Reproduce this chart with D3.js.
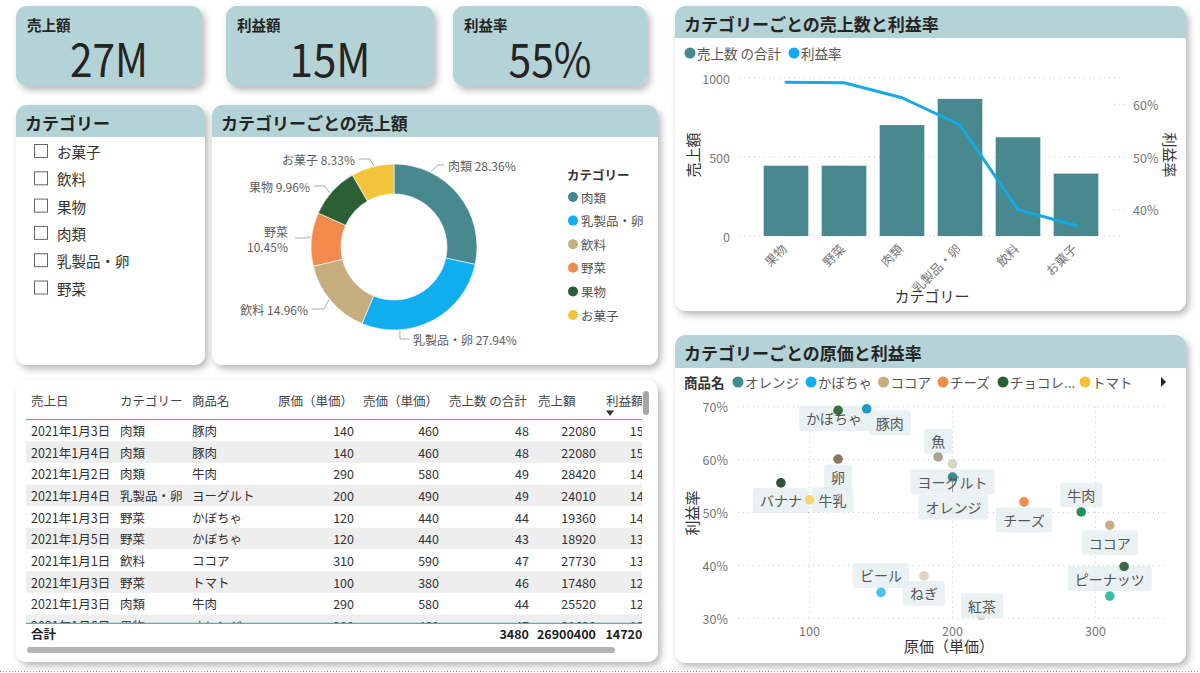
<!DOCTYPE html>
<html>
<head>
<meta charset="utf-8">
<script src="https://cdn.jsdelivr.net/npm/d3@7"></script>
<style>
body { margin: 0; background: #fff; }
text { font-family: "Noto Sans CJK JP", "Noto Sans", sans-serif; }
</style>
</head>
<body>
<div id="vis"></div>
<script>
var w = 1200, h = 673;

// KPI cards
var kpiLabels = ["売上額", "利益額", "利益率"];
var kpiValues = ["27M", "15M", "55%"];

// slicer
var slicerItems = ["お菓子", "飲料", "果物", "肉類", "乳製品・卵", "野菜"];

// donut: share of sales by category
var donutCats = ["肉類", "乳製品・卵", "飲料", "野菜", "果物", "お菓子"];
var donutShares = [28.36, 27.94, 14.96, 10.45, 9.96, 8.33];
var catColors = ["#47898e", "#0eaeef", "#c5ad7e", "#f28a4e", "#2c5f34", "#f3c43a"];

// bar + line: quantity and profit rate by category
var barCats = ["果物", "野菜", "肉類", "乳製品・卵", "飲料", "お菓子"];
var barQty = [445, 445, 702, 868, 625, 395];
var barRate = [0.642, 0.641, 0.6125, 0.561, 0.400, 0.370];
var qtyTicks = [0, 500, 1000];
var rateTicks = [0.4, 0.5, 0.6];

// scatter: cost vs profit rate per product
var scNames = ["かぼちゃ", "豚肉", "卵", "バナナ", "牛乳", "魚", "ヨーグルト", "オレンジ", "チーズ", "牛肉", "ココア", "チョコレート", "ピーナッツ", "ビール", "ねぎ", "紅茶"];
var scCost = [120, 140, 120, 80, 100, 190, 200, 200, 250, 290, 310, 320, 310, 150, 180, 220];
var scRate = [0.693, 0.696, 0.601, 0.556, 0.524, 0.605, 0.592, 0.567, 0.520, 0.501, 0.476, 0.398, 0.342, 0.349, 0.380, 0.305];
var scColors = ["#3c6c44", "#1f98c6", "#8b7a60", "#2e5236", "#f6d56c", "#a9a48f", "#d9d4c4", "#3f8c8c", "#f2894f", "#1c9457", "#c9ae82", "#3b6a46", "#3bbf9e", "#4cc0f0", "#dbd6c8", "#cfcabc"];
var scLegend = ["オレンジ", "かぼちゃ", "ココア", "チーズ", "チョコレ...", "トマト"];
var scLegendColors = ["#3f8c8c", "#0eaeef", "#c5ad7e", "#f28a4e", "#2c5f34", "#f3c43a"];
var scXTicks = [100, 200, 300];
var scYTicks = [0.3, 0.4, 0.5, 0.6, 0.7];

// table
var tableCols = ["売上日", "カテゴリー", "商品名", "原価（単価）", "売価（単価）", "売上数 の合計", "売上額", "利益額"];
var tableRows = [
  ["2021年1月3日", "肉類", "豚肉", 140, 460, 48, 22080, 15360],
  ["2021年1月4日", "肉類", "豚肉", 140, 460, 48, 22080, 15360],
  ["2021年1月2日", "肉類", "牛肉", 290, 580, 49, 28420, 14210],
  ["2021年1月4日", "乳製品・卵", "ヨーグルト", 200, 490, 49, 24010, 14210],
  ["2021年1月3日", "野菜", "かぼちゃ", 120, 440, 44, 19360, 14080],
  ["2021年1月5日", "野菜", "かぼちゃ", 120, 440, 43, 18920, 13760],
  ["2021年1月1日", "飲料", "ココア", 310, 590, 47, 27730, 13160],
  ["2021年1月3日", "野菜", "トマト", 100, 380, 46, 17480, 12880],
  ["2021年1月3日", "肉類", "牛肉", 290, 580, 44, 25520, 12760],
  ["2021年1月6日", "果物", "オレンジ", 200, 460, 47, 21620, 12220]
];
var tableTotals = ["合計", "", "", "", "", 3480, 26900400, 14720560];

var teal = "#b4d3d6";
var titleColor = "#252423";
var tickColor = "#777";

var svg = d3.select("#vis").append("svg")
  .attr("width", w)
  .attr("height", h);

var defs = svg.append("defs");
var flt = defs.append("filter").attr("id", "shadow")
  .attr("x", "-10%").attr("y", "-10%").attr("width", "125%").attr("height", "135%");
flt.append("feDropShadow").attr("dx", 3).attr("dy", 4).attr("stdDeviation", 3.5)
  .attr("flood-color", "#000").attr("flood-opacity", 0.28);

//draws a card with a teal header band
function card(x, y, cw, ch, headH, title) {
  var r = 11;
  var g = svg.append("g");
  g.append("rect")
    .attr("x", x).attr("y", y).attr("width", cw).attr("height", ch)
    .attr("rx", r).attr("fill", headH >= ch ? teal : "#fff")
    .attr("filter", "url(#shadow)");
  if (headH > 0 && headH < ch) {
    g.append("path")
      .attr("d", "M" + x + "," + (y + headH) + "V" + (y + r) +
        "A" + r + "," + r + " 0 0 1 " + (x + r) + "," + y +
        "H" + (x + cw - r) +
        "A" + r + "," + r + " 0 0 1 " + (x + cw) + "," + (y + r) +
        "V" + (y + headH) + "Z")
      .attr("fill", teal);
  }
  if (title) {
    g.append("text")
      .attr("x", x + 9).attr("y", y + headH / 2 + 1)
      .attr("dominant-baseline", "central")
      .attr("font-size", 17).attr("font-weight", 700)
      .attr("fill", titleColor)
      .text(title);
  }
  return g;
}

// ---------- KPI cards ----------
var kpiBoxes = [[16, 6, 186], [226, 6, 208], [453, 6, 194]];
var kpiWidths = [78, 81, 83];
kpiLabels.forEach(function (lab, i) {
  var b = kpiBoxes[i];
  var g = card(b[0], b[1], b[2], 80, 80, null);
  g.append("text")
    .attr("x", b[0] + 11).attr("y", 24)
    .attr("dominant-baseline", "central")
    .attr("font-size", 14.5).attr("font-weight", 700)
    .attr("fill", titleColor)
    .text(lab);
  g.append("text")
    .attr("x", b[0] + b[2] / 2 - kpiWidths[i] / 2).attr("y", 77)
    .attr("font-family", "'DejaVu Sans Condensed', 'Liberation Sans Narrow', 'DejaVu Sans', sans-serif")
    .attr("font-size", 46)
    .attr("textLength", kpiWidths[i])
    .attr("lengthAdjust", "spacingAndGlyphs")
    .attr("fill", titleColor)
    .text(kpiValues[i]);
});

// ---------- slicer ----------
var slicer = card(16, 105, 189, 260, 32, "カテゴリー");
slicer.selectAll("rect.box")
  .data(slicerItems)
  .enter()
  .append("rect")
  .attr("class", "box")
  .attr("x", 34.5)
  .attr("y", function (d, i) { return 144.5 + i * 27.3; })
  .attr("width", 13).attr("height", 13)
  .attr("fill", "#fff").attr("stroke", "#666").attr("stroke-width", 1);
slicer.selectAll("text.item")
  .data(slicerItems)
  .enter()
  .append("text")
  .attr("class", "item")
  .attr("x", 57)
  .attr("y", function (d, i) { return 151.5 + i * 27.3; })
  .attr("dominant-baseline", "central")
  .attr("font-size", 14.5).attr("fill", "#333")
  .text(function (d) { return d; });

// ---------- donut ----------
var donutCard = card(212, 105, 446, 260, 32, "カテゴリーごとの売上額");
var cx = 394, cy = 247;
var pie = d3.pie().sort(null).value(function (d) { return d; });
var arc = d3.arc().innerRadius(53).outerRadius(83);
var arcs = pie(donutShares);
donutCard.append("g")
  .attr("transform", "translate(" + cx + "," + cy + ")")
  .selectAll("path")
  .data(arcs)
  .enter()
  .append("path")
  .attr("d", arc)
  .attr("fill", function (d, i) { return catColors[i]; })
  .attr("stroke", "#fff").attr("stroke-width", 0.6);

// leader lines and labels (angle on ring, elbow, end, text pos)
var donutLabelPos = [
  { ang: 26, ex: 438, ey: 165, lx: 444, tx: 448, ty: 165, anchor: "start" },
  { ang: 176, ex: 400, ey: 339, lx: 409, tx: 413, ty: 339, anchor: "start" },
  { ang: 231, ex: 324, ey: 309, lx: 312, tx: 308, ty: 309, anchor: "end" },
  { ang: 277, ex: 306, ey: 238, lx: 295, tx: 288, ty: 231.5, anchor: "end", split: true },
  { ang: 310, ex: 325, ey: 186, lx: 314, tx: 310, ty: 186, anchor: "end" },
  { ang: 346, ex: 370, ey: 159, lx: 359, tx: 355, ty: 159, anchor: "end" }
];
donutCats.forEach(function (c, i) {
  var p = donutLabelPos[i];
  var a = p.ang * Math.PI / 180;
  var sx = cx + 84 * Math.sin(a), sy = cy - 84 * Math.cos(a);
  donutCard.append("polyline")
    .attr("points", [[sx, sy], [p.ex, p.ey], [p.lx, p.ey]].join(" "))
    .attr("fill", "none").attr("stroke", "#aaa").attr("stroke-width", 1);
  var label = donutShares[i].toFixed(2) + "%";
  if (p.split) {
    donutCard.append("text").attr("x", p.tx).attr("y", p.ty)
      .attr("text-anchor", p.anchor).attr("dominant-baseline", "central")
      .attr("font-size", 12).attr("fill", "#605e5c").text(c);
    donutCard.append("text").attr("x", p.tx).attr("y", p.ty + 15)
      .attr("text-anchor", p.anchor).attr("dominant-baseline", "central")
      .attr("font-size", 12).attr("fill", "#605e5c").text(label);
  } else {
    donutCard.append("text").attr("x", p.tx).attr("y", p.ty)
      .attr("text-anchor", p.anchor).attr("dominant-baseline", "central")
      .attr("font-size", 12).attr("fill", "#605e5c").text(c + " " + label);
  }
});

// legend
donutCard.append("text")
  .attr("x", 567).attr("y", 174)
  .attr("dominant-baseline", "central")
  .attr("font-size", 12.5).attr("font-weight", 700).attr("fill", "#333")
  .text("カテゴリー");
var dl = donutCard.selectAll("g.leg")
  .data(donutCats)
  .enter()
  .append("g")
  .attr("class", "leg")
  .attr("transform", function (d, i) { return "translate(573," + (197 + i * 23.6) + ")"; });
dl.append("circle").attr("r", 5).attr("fill", function (d, i) { return catColors[i]; });
dl.append("text").attr("x", 8).attr("dominant-baseline", "central")
  .attr("font-size", 12.5).attr("fill", "#555")
  .text(function (d) { return d; });

// ---------- bar + line chart ----------
var barCard = card(675, 6, 511, 305, 32, "カテゴリーごとの売上数と利益率");
var bx = d3.scaleBand().domain(barCats).range([757, 1105]).paddingInner(0.23).paddingOuter(0.115);
var byL = d3.scaleLinear().domain([0, 1000]).range([236, 78]);
var byR = d3.scaleLinear().domain([0.35, 0.65]).range([236, 78]);

// legend
barCard.append("circle").attr("cx", 690).attr("cy", 53).attr("r", 5.5).attr("fill", "#47898e");
barCard.append("text").attr("x", 697).attr("y", 53).attr("dominant-baseline", "central")
  .attr("font-size", 13.5).attr("fill", "#555").text("売上数 の合計");
barCard.append("circle").attr("cx", 794).attr("cy", 53).attr("r", 5.5).attr("fill", "#12a9ec");
barCard.append("text").attr("x", 801).attr("y", 53).attr("dominant-baseline", "central")
  .attr("font-size", 13.5).attr("fill", "#555").text("利益率");

barCard.selectAll("line.grid")
  .data(qtyTicks)
  .enter()
  .append("line")
  .attr("class", "grid")
  .attr("x1", 739).attr("x2", 1124)
  .attr("y1", function (d) { return byL(d); })
  .attr("y2", function (d) { return byL(d); })
  .attr("stroke", "#c8c8c8").attr("stroke-dasharray", "1,4");
barCard.selectAll("text.yl")
  .data(qtyTicks)
  .enter()
  .append("text")
  .attr("class", "yl")
  .attr("x", 730).attr("y", function (d) { return byL(d); })
  .attr("text-anchor", "end").attr("dominant-baseline", "central")
  .attr("font-size", 12.5).attr("fill", tickColor)
  .text(function (d) { return d; });
barCard.selectAll("text.yr")
  .data(rateTicks)
  .enter()
  .append("text")
  .attr("class", "yr")
  .attr("x", 1133).attr("y", function (d) { return byR(d); })
  .attr("dominant-baseline", "central")
  .attr("font-size", 12.5).attr("fill", tickColor)
  .text(function (d) { return d3.format(".0%")(d); });
barCard.selectAll("line.rg")
  .data(rateTicks)
  .enter()
  .append("line")
  .attr("class", "rg")
  .attr("x1", 1114).attr("x2", 1128)
  .attr("y1", function (d) { return byR(d); })
  .attr("y2", function (d) { return byR(d); })
  .attr("stroke", "#c8c8c8").attr("stroke-dasharray", "1,4");

barCard.selectAll("rect.bar")
  .data(barCats)
  .enter()
  .append("rect")
  .attr("class", "bar")
  .attr("x", function (d) { return bx(d); })
  .attr("y", function (d, i) { return byL(barQty[i]); })
  .attr("width", bx.bandwidth())
  .attr("height", function (d, i) { return byL(0) - byL(barQty[i]); })
  .attr("fill", "#47898e");

var rateLine = d3.line()
  .x(function (d, i) { return bx(barCats[i]) + bx.bandwidth() / 2; })
  .y(function (d) { return byR(d); });
barCard.append("path")
  .attr("d", rateLine(barRate))
  .attr("fill", "none").attr("stroke", "#17a8e6")
  .attr("stroke-width", 3).attr("stroke-linejoin", "round").attr("stroke-linecap", "round");

barCard.selectAll("text.xl")
  .data(barCats)
  .enter()
  .append("text")
  .attr("class", "xl")
  .attr("transform", function (d) {
    return "translate(" + (bx(d) + bx.bandwidth() / 2 - 2) + ",246) rotate(-45)";
  })
  .attr("text-anchor", "end").attr("dominant-baseline", "central")
  .attr("font-size", 12.5).attr("fill", tickColor)
  .text(function (d) { return d; });

barCard.append("text").attr("x", 932).attr("y", 295)
  .attr("text-anchor", "middle").attr("dominant-baseline", "central")
  .attr("font-size", 15).attr("fill", "#333").text("カテゴリー");
barCard.append("text")
  .attr("transform", "translate(692,155) rotate(-90)")
  .attr("text-anchor", "middle").attr("dominant-baseline", "central")
  .attr("font-size", 15).attr("fill", "#333").text("売上額");
barCard.append("text")
  .attr("transform", "translate(1170,155) rotate(90)")
  .attr("text-anchor", "middle").attr("dominant-baseline", "central")
  .attr("font-size", 15).attr("fill", "#333").text("利益率");

// ---------- scatter ----------
var scCard = card(675, 335, 511, 328, 33, "カテゴリーごとの原価と利益率");
var sx = d3.scaleLinear().domain([50, 350]).range([738, 1167]);
var sy = d3.scaleLinear().domain([0.3, 0.7]).range([618.3, 406.7]);

// legend
scCard.append("text").attr("x", 684).attr("y", 382).attr("dominant-baseline", "central")
  .attr("font-size", 13.5).attr("font-weight", 700).attr("fill", "#333").text("商品名");
var legX = [738, 811, 883.5, 943, 1003, 1085];
scLegend.forEach(function (n, i) {
  scCard.append("circle").attr("cx", legX[i]).attr("cy", 382).attr("r", 5.5).attr("fill", scLegendColors[i]);
  scCard.append("text").attr("x", legX[i] + 7).attr("y", 382).attr("dominant-baseline", "central")
    .attr("font-size", 13.5).attr("fill", "#555").text(n);
});
scCard.append("path").attr("d", "M1161,377L1166,382L1161,387Z").attr("fill", "#222");

scCard.selectAll("line.hg")
  .data(scYTicks)
  .enter()
  .append("line")
  .attr("class", "hg")
  .attr("x1", 738).attr("x2", 1167)
  .attr("y1", function (d) { return sy(d); })
  .attr("y2", function (d) { return sy(d); })
  .attr("stroke", "#c8c8c8").attr("stroke-dasharray", "1,4");
scCard.selectAll("line.vg")
  .data(scXTicks)
  .enter()
  .append("line")
  .attr("class", "vg")
  .attr("y1", 406.7).attr("y2", 618.3)
  .attr("x1", function (d) { return sx(d); })
  .attr("x2", function (d) { return sx(d); })
  .attr("stroke", "#c8c8c8").attr("stroke-dasharray", "1,4");
scCard.selectAll("text.sy")
  .data(scYTicks)
  .enter()
  .append("text")
  .attr("class", "sy")
  .attr("x", 728).attr("y", function (d) { return sy(d); })
  .attr("text-anchor", "end").attr("dominant-baseline", "central")
  .attr("font-size", 12.5).attr("fill", tickColor)
  .text(function (d) { return d3.format(".0%")(d); });
scCard.selectAll("text.sx")
  .data(scXTicks)
  .enter()
  .append("text")
  .attr("class", "sx")
  .attr("x", function (d) { return sx(d); }).attr("y", 630)
  .attr("text-anchor", "middle").attr("dominant-baseline", "central")
  .attr("font-size", 12.5).attr("fill", tickColor)
  .text(function (d) { return d; });
scCard.append("text").attr("x", 949).attr("y", 645)
  .attr("text-anchor", "middle").attr("dominant-baseline", "central")
  .attr("font-size", 15).attr("fill", "#333").text("原価（単価）");
scCard.append("text")
  .attr("transform", "translate(691,513) rotate(-90)")
  .attr("text-anchor", "middle").attr("dominant-baseline", "central")
  .attr("font-size", 15).attr("fill", "#333").text("利益率");

// label offsets from each point
var scLabelOffset = {
  "かぼちゃ": [-4, 8], "豚肉": [23, 14], "卵": [0, 18], "バナナ": [0, 17.5], "牛乳": [23, 0],
  "魚": [0, -16], "ヨーグルト": [0, 18], "オレンジ": [1, 30], "チーズ": [0, 18], "牛肉": [0, -17],
  "ココア": [0, 17.5], "ピーナッツ": [0, -17.5], "ビール": [0, -17], "ねぎ": [0, 17.5], "紅茶": [1, -10]
};
var labelled = scNames.filter(function (n) { return scLabelOffset[n]; });

function labelPos(n) {
  var i = scNames.indexOf(n);
  var o = scLabelOffset[n];
  return [sx(scCost[i]) + o[0], sy(scRate[i]) + o[1]];
}
// label boxes first
var lbl = scCard.selectAll("g.lbl")
  .data(labelled)
  .enter()
  .append("g")
  .attr("class", "lbl")
  .attr("transform", function (n) { var p = labelPos(n); return "translate(" + p[0] + "," + p[1] + ")"; });
lbl.append("rect")
  .attr("x", function (n) { return -(n.length * 14) / 2 - 7; })
  .attr("y", -12.5)
  .attr("width", function (n) { return n.length * 14 + 14; })
  .attr("height", 25)
  .attr("rx", 3)
  .attr("fill", "#e3eeef").attr("opacity", 0.8);

// leader for オレンジ
var oi = scNames.indexOf("オレンジ");
scCard.append("line")
  .attr("x1", sx(scCost[oi])).attr("x2", sx(scCost[oi]))
  .attr("y1", sy(scRate[oi])).attr("y2", sy(scRate[oi]) + 15)
  .attr("stroke", "#999");

scCard.selectAll("circle.pt")
  .data(scNames)
  .enter()
  .append("circle")
  .attr("class", "pt")
  .attr("cx", function (d, i) { return sx(scCost[i]); })
  .attr("cy", function (d, i) { return sy(scRate[i]); })
  .attr("r", 4.8)
  .attr("fill", function (d, i) { return scColors[i]; });

scCard.selectAll("text.lt")
  .data(labelled)
  .enter()
  .append("text")
  .attr("class", "lt")
  .attr("x", function (n) { return labelPos(n)[0]; })
  .attr("y", function (n) { return labelPos(n)[1]; })
  .attr("text-anchor", "middle").attr("dominant-baseline", "central")
  .attr("font-size", 14).attr("fill", "#555")
  .text(function (n) { return n; });
// 紅茶 label sits over its point
scCard.selectAll("g.lbl").filter(function (n) { return n === "紅茶"; }).raise();
scCard.selectAll("text.lt").filter(function (n) { return n === "紅茶"; }).raise();

// ---------- table ----------
var tbl = card(16, 380, 642, 282, 0, null);
defs.append("clipPath").attr("id", "tclip")
  .append("rect").attr("x", 26).attr("y", 385).attr("width", 616).attr("height", 270);
defs.append("clipPath").attr("id", "bclip")
  .append("rect").attr("x", 26).attr("y", 419.5).attr("width", 616).attr("height", 203.5);
var tg = tbl.append("g").attr("clip-path", "url(#tclip)");

var colX = [31, 120, 192, 354, 439, 529, 596, 664.5];
var headX = [31, 120, 192, 278, 363, 449, 538, 606];
var rowH = 21.67, rowTop = 419.5;

tg.selectAll("text.th")
  .data(tableCols)
  .enter()
  .append("text")
  .attr("class", "th")
  .attr("x", function (d, i) { return headX[i]; })
  .attr("y", 400)
  .attr("dominant-baseline", "central")
  .attr("font-size", 12.5).attr("fill", "#444")
  .text(function (d) { return d; });
tg.append("path").attr("d", "M606,410.5L614,410.5L610,416Z").attr("fill", "#333");

var body = tg.append("g").attr("clip-path", "url(#bclip)");
body.selectAll("rect.stripe")
  .data(tableRows)
  .enter()
  .append("rect")
  .attr("class", "stripe")
  .attr("x", 26).attr("width", 616)
  .attr("y", function (d, i) { return rowTop + i * rowH; })
  .attr("height", rowH)
  .attr("fill", function (d, i) { return i % 2 ? "#eeeeee" : "#fff"; });
var rows = body.selectAll("g.row")
  .data(tableRows)
  .enter()
  .append("g")
  .attr("class", "row")
  .attr("transform", function (d, i) { return "translate(0," + (rowTop + i * rowH + rowH / 2) + ")"; });
rows.selectAll("text")
  .data(function (d) { return d; })
  .enter()
  .append("text")
  .attr("x", function (d, i) { return colX[i]; })
  .attr("text-anchor", function (d, i) { return i > 2 ? "end" : "start"; })
  .attr("dominant-baseline", "central")
  .attr("font-size", 12.5).attr("fill", "#333")
  .text(function (d) { return d; });

tg.append("line").attr("x1", 26).attr("x2", 642).attr("y1", rowTop).attr("y2", rowTop)
  .attr("stroke", "#6aa6a9").attr("stroke-width", 1.2);
tg.append("line").attr("x1", 26).attr("x2", 642).attr("y1", 623.3).attr("y2", 623.3)
  .attr("stroke", "#6aa6a9").attr("stroke-width", 1.2);

tg.selectAll("text.tot")
  .data(tableTotals)
  .enter()
  .append("text")
  .attr("class", "tot")
  .attr("x", function (d, i) { return colX[i] + (i === 7 ? 0 : 0); })
  .attr("y", 633)
  .attr("text-anchor", function (d, i) { return i > 2 ? "end" : "start"; })
  .attr("dominant-baseline", "central")
  .attr("font-size", 12.5).attr("font-weight", 700).attr("fill", "#222")
  .text(function (d) { return d; });

// scrollbars
tbl.append("rect").attr("x", 27).attr("y", 647).attr("width", 588).attr("height", 6).attr("rx", 3).attr("fill", "#b3b3b3");
tbl.append("rect").attr("x", 643).attr("y", 391).attr("width", 6).attr("height", 24).attr("rx", 3).attr("fill", "#a6a6a6");

// page bottom border
svg.append("line").attr("x1", 0).attr("x2", w).attr("y1", 671.5).attr("y2", 671.5)
  .attr("stroke", "#999").attr("stroke-dasharray", "1,2");
</script>
</body>
</html>
